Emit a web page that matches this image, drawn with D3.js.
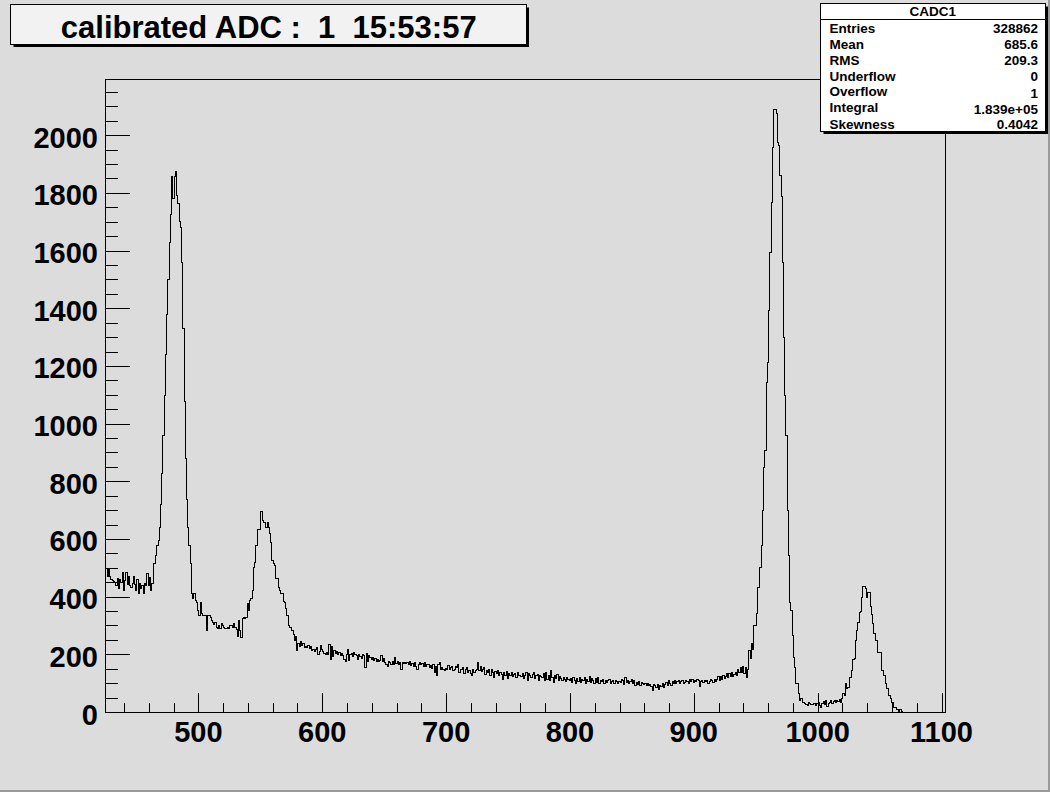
<!DOCTYPE html>
<html>
<head>
<meta charset="utf-8">
<script src="https://cdn.jsdelivr.net/npm/d3@7"></script>
<style>
  html, body { margin: 0; padding: 0; background: #dcdcdc; }
  svg { display: block; }
  text { font-family: "Liberation Sans", Arial, Helvetica, sans-serif; font-weight: bold; fill: #000; }
</style>
</head>
<body>
<svg id="chart" width="1050" height="792"></svg>
<script>
// ---------------- data ----------------
const titleText = "calibrated ADC :\u00A0 1\u00A0 15:53:57";
const histName = "CADC1";
const statLabels = ["Entries", "Mean", "RMS", "Underflow", "Overflow", "Integral", "Skewness"];
const statValues = ["328862", "685.6", "209.3", "0", "1", "1.839e+05", "0.4042"];

const xRange = [424.6, 1102.8];
const yRange = [0, 2195];
const xMajorTicks = [500, 600, 700, 800, 900, 1000, 1100];
const xTickLabels = ["500", "600", "700", "800", "900", "1000", "1100"];
const yMajorTicks = [0, 200, 400, 600, 800, 1000, 1200, 1400, 1600, 1800, 2000];
const yTickLabels = ["0", "200", "400", "600", "800", "1000", "1200", "1400", "1600", "1800", "2000"];
const xMinorStep = 20;
const yMinorStep = 50;

const binLow = 425;   // low edge of first bin
const binWidth = 1;   // ADC units per bin
const counts = [
  498, 470, 495, 472, 460, 458, 455, 452, 440, 465,   // 425
  430, 462, 450, 487, 423, 458, 487, 445, 470, 440,   // 435
  435, 446, 470, 445, 423, 460, 411, 446, 430, 440,   // 445
  411, 446, 440, 481, 440, 469, 423, 446, 517, 517,   // 455
  544, 579, 596, 640, 720, 830, 960, 1100, 1240, 1380, // 465
  1500, 1630, 1727, 1859, 1782, 1859, 1876, 1793, 1765, 1703, // 475
  1682, 1560, 1330, 1080, 880, 740, 640, 580, 517, 414, // 485
  395, 414, 390, 382, 354, 336, 382, 343, 336, 336,   // 495
  336, 284, 336, 336, 330, 320, 312, 305, 312, 295,   // 505
  291, 300, 291, 309, 300, 295, 291, 291, 296, 291,   // 515
  302, 300, 296, 310, 296, 288, 262, 319, 284, 260,   // 525
  326, 330, 326, 330, 378, 354, 388, 395, 423, 504,   // 535
  521, 579, 634, 634, 634, 698, 666, 658, 658, 640,   // 545
  658, 640, 620, 591, 527, 517, 510, 464, 464, 434,   // 555
  423, 412, 412, 384, 382, 361, 336, 302, 296, 296,   // 565
  284, 270, 250, 265, 215, 240, 228, 245, 232, 238,   // 575
  226, 230, 224, 232, 222, 228, 216, 220, 212, 218,   // 585
  224, 202, 210, 232, 218, 212, 205, 200, 209, 202,   // 595
  236, 185, 230, 195, 214, 205, 212, 200, 208, 196,   // 605
  204, 198, 185, 176, 200, 218, 182, 200, 205, 194,   // 615
  208, 200, 198, 184, 202, 195, 186, 200, 198, 155,   // 625
  205, 178, 198, 190, 184, 190, 182, 186, 178, 184,   // 635
  176, 182, 196, 178, 188, 175, 168, 158, 178, 172,   // 645
  165, 178, 168, 190, 170, 178, 165, 172, 148, 175,   // 655
  170, 172, 170, 172, 168, 176, 162, 170, 158, 172,   // 665
  160, 148, 168, 172, 165, 170, 160, 172, 158, 165,   // 675
  168, 155, 162, 152, 165, 140, 160, 130, 168, 172,   // 685
  148, 155, 150, 145, 152, 150, 162, 148, 156, 158,   // 695
  146, 150, 160, 155, 168, 138, 150, 148, 155, 135,   // 705
  150, 156, 140, 145, 135, 130, 150, 140, 145, 150,   // 715
  172, 145, 158, 142, 150, 155, 132, 145, 140, 150,   // 725
  128, 148, 138, 122, 142, 135, 145, 128, 140, 132,   // 735
  115, 140, 130, 142, 118, 135, 128, 138, 125, 132,   // 745
  135, 120, 138, 128, 130, 125, 135, 118, 130, 138,   // 755
  112, 135, 128, 122, 132, 138, 118, 128, 132, 112,   // 765
  130, 125, 120, 135, 112, 140, 115, 130, 112, 145,   // 775
  120, 105, 128, 118, 132, 112, 125, 118, 110, 120,   // 785
  115, 108, 122, 115, 110, 118, 105, 120, 112, 100,   // 795
  118, 108, 122, 104, 115, 112, 120, 100, 115, 108,   // 805
  125, 105, 118, 110, 102, 118, 105, 122, 100, 112,   // 815
  108, 115, 100, 112, 105, 110, 115, 100, 108, 112,   // 825
  100, 110, 106, 102, 108, 104, 115, 110, 98, 120,    // 835
  105, 112, 100, 108, 115, 100, 110, 95, 105, 98,     // 845
  108, 92, 104, 100, 96, 102, 95, 100, 94, 98,        // 855
  90, 75, 96, 92, 85, 98, 80, 94, 90, 100,            // 865
  88, 96, 105, 92, 110, 100, 95, 108, 102, 110,       // 875
  100, 106, 112, 102, 108, 110, 100, 104, 112, 106,   // 885
  100, 114, 108, 116, 104, 112, 106, 116, 110, 90,    // 895
  108, 112, 104, 110, 106, 112, 100, 108, 114, 110,   // 905
  104, 116, 108, 114, 124, 110, 124, 116, 128, 118,   // 915
  126, 134, 120, 136, 126, 138, 124, 132, 140, 128,   // 925
  150, 138, 155, 140, 160, 135, 155, 122, 150, 215,   // 935
  186, 238, 218, 302, 302, 342, 434, 434, 504, 579,   // 945
  700, 851, 909, 1145, 1215, 1394, 1596, 1770, 1958, 2090, // 955
  2090, 2076, 1978, 1966, 1862, 1790, 1560, 1300, 1100, 961, // 965
  700, 544, 380, 354, 267, 190, 157, 100, 99, 65,     // 975
  42, 48, 36, 36, 30, 28, 25, 33, 30, 28,             // 985
  27, 32, 30, 26, 30, 35, 25, 19, 30, 38,             // 995
  28, 42, 22, 30, 35, 40, 32, 38, 42, 36,             // 1005
  40, 38, 44, 36, 50, 65, 60, 99, 82, 85,             // 1015
  122, 120, 146, 183, 186, 250, 284, 313, 348, 350,   // 1025
  400, 438, 438, 429, 398, 417, 417, 368, 339, 308,   // 1035
  273, 250, 250, 209, 209, 209, 146, 146, 128, 99,    // 1045
  82, 82, 59, 47, 36, 36, 18, 18, 12, 9,              // 1055
  3, 9, 2, 1, 0, 0, 0, 0, 0, 0,                       // 1065
  0, 0, 0, 0, 0, 0, 0, 0, 0, 0,                       // 1075
  0, 0, 0, 0, 0, 0, 0, 0, 0, 0,                       // 1085
  0, 0, 0, 0, 0, 0, 0, 0                              // 1095
];

// ---------------- layout ----------------
const W = 1050, H = 792;
const frame = { left: 105, top: 79, right: 945, bottom: 712 };
const bg = "#dcdcdc";

const svg = d3.select("#chart");

svg.append("rect").attr("x", 0).attr("y", 0).attr("width", W).attr("height", H).attr("fill", bg);
// canvas bevel border
svg.append("rect").attr("x", 0).attr("y", H - 2).attr("width", W).attr("height", 2).attr("fill", "#9a9a9a");
svg.append("rect").attr("x", W - 2).attr("y", 0).attr("width", 2).attr("height", H).attr("fill", "#9a9a9a");

const x = d3.scaleLinear().domain(xRange).range([frame.left, frame.right]);
const y = d3.scaleLinear().domain(yRange).range([frame.bottom, frame.top]);

// clip
svg.append("clipPath").attr("id", "fclip")
  .append("rect").attr("x", frame.left).attr("y", frame.top)
  .attr("width", frame.right - frame.left).attr("height", frame.bottom - frame.top);

// histogram
const pts = counts.map((c, i) => [binLow + i * binWidth, c]);
pts.push([binLow + counts.length * binWidth, counts[counts.length - 1]]);
const line = d3.line()
  .x(d => Math.round(x(d[0])) + 0.5)
  .y(d => Math.round(y(d[1])) + 0.5)
  .curve(d3.curveStepAfter);
svg.append("g").attr("clip-path", "url(#fclip)")
  .append("path")
  .attr("d", line(pts))
  .attr("fill", "none")
  .attr("stroke", "#000")
  .attr("stroke-width", 1)
  .attr("shape-rendering", "crispEdges");

// frame
svg.append("rect")
  .attr("x", frame.left + 0.5).attr("y", frame.top + 0.5)
  .attr("width", frame.right - frame.left).attr("height", frame.bottom - frame.top)
  .attr("fill", "none").attr("stroke", "#000").attr("stroke-width", 1)
  .attr("shape-rendering", "crispEdges");

// x axis ticks (pointing up, inside frame)
const xMinor = d3.range(Math.ceil(xRange[0] / xMinorStep) * xMinorStep, xRange[1], xMinorStep)
  .filter(v => !xMajorTicks.includes(v));
const xMajLen = 19, xMinLen = 9.5;
const gx = svg.append("g").attr("transform", `translate(0,${frame.bottom})`);
gx.call(d3.axisBottom(x).tickValues(xMinor).tickSize(-xMinLen).tickFormat(""));
const gx2 = svg.append("g").attr("transform", `translate(0,${frame.bottom})`);
gx2.call(d3.axisBottom(x).tickValues(xMajorTicks).tickSize(-xMajLen).tickFormat(""));
[gx, gx2].forEach(g => {
  g.select(".domain").remove();
  g.selectAll("line").attr("stroke", "#000").attr("shape-rendering", "crispEdges");
});
svg.append("g").selectAll("text").data(xMajorTicks).join("text")
  .attr("x", d => x(d))
  .attr("y", 742)
  .attr("text-anchor", "middle")
  .attr("font-size", 29)
  .text((d, i) => xTickLabels[i]);

// y axis ticks (pointing right, inside frame)
const yMinor = d3.range(0, yRange[1], yMinorStep).filter(v => !yMajorTicks.includes(v));
const yMajLen = 25, yMinLen = 12.5;
const gy = svg.append("g").attr("transform", `translate(${frame.left},0)`);
gy.call(d3.axisLeft(y).tickValues(yMinor).tickSize(-yMinLen).tickFormat(""));
const gy2 = svg.append("g").attr("transform", `translate(${frame.left},0)`);
gy2.call(d3.axisLeft(y).tickValues(yMajorTicks).tickSize(-yMajLen).tickFormat(""));
[gy, gy2].forEach(g => {
  g.select(".domain").remove();
  g.selectAll("line").attr("stroke", "#000").attr("shape-rendering", "crispEdges");
});
svg.append("g").selectAll("text").data(yMajorTicks).join("text")
  .attr("x", 98)
  .attr("y", d => y(d) + 12.5)
  .attr("text-anchor", "end")
  .attr("font-size", 29)
  .text((d, i) => yTickLabels[i]);

// title box
const tb = { x: 10.5, y: 4.5, w: 515.5, h: 39.5 };
svg.append("rect").attr("x", tb.x + 3).attr("y", tb.y + 3).attr("width", tb.w).attr("height", tb.h).attr("fill", "#000");
svg.append("rect").attr("x", tb.x).attr("y", tb.y).attr("width", tb.w).attr("height", tb.h)
  .attr("fill", "#f2f2f2").attr("stroke", "#000").attr("stroke-width", 1).attr("shape-rendering", "crispEdges");
svg.append("text")
  .attr("x", tb.x + tb.w / 2 + 0.5).attr("y", 37.5)
  .attr("text-anchor", "middle")
  .attr("font-size", 31)
  .text(titleText);

// stats box
const sb = { x: 820.5, y: 3.5, w: 224.5, h: 127.5 };
const rowH = (sb.h) / (statLabels.length + 1);
svg.append("rect").attr("x", sb.x + 3).attr("y", sb.y + 3).attr("width", sb.w).attr("height", sb.h).attr("fill", "#000");
svg.append("rect").attr("x", sb.x).attr("y", sb.y).attr("width", sb.w).attr("height", sb.h)
  .attr("fill", "#ffffff").attr("stroke", "#000").attr("stroke-width", 1).attr("shape-rendering", "crispEdges");
svg.append("line")
  .attr("x1", sb.x).attr("x2", sb.x + sb.w)
  .attr("y1", Math.round(sb.y + rowH) + 0.5).attr("y2", Math.round(sb.y + rowH) + 0.5)
  .attr("stroke", "#000").attr("shape-rendering", "crispEdges");
svg.append("text")
  .attr("x", sb.x + sb.w / 2).attr("y", sb.y + rowH / 2 + 5)
  .attr("text-anchor", "middle").attr("font-size", 13.5)
  .text(histName);
const rowsG = svg.append("g");
statLabels.forEach((lab, i) => {
  const cy = sb.y + rowH * (i + 1.5);
  const dyL = (lab === "Overflow" || lab === "Integral") ? -1 : 0;
  const dyV = (lab === "Overflow" || lab === "Integral") ? 1.5 : 0;
  rowsG.append("text").attr("x", sb.x + 9).attr("y", cy + 5.5 + dyL)
    .attr("font-size", 13.5).text(lab);
  rowsG.append("text").attr("x", sb.x + sb.w - 7).attr("y", cy + 5.5 + dyV)
    .attr("text-anchor", "end").attr("font-size", 13.5).text(statValues[i]);
});
</script>
</body>
</html>
